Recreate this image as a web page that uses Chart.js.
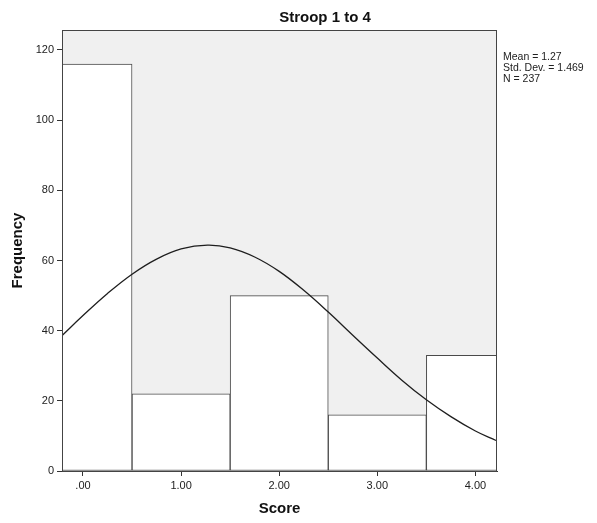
<!DOCTYPE html>
<html>
<head>
<meta charset="utf-8">
<script src="https://cdn.jsdelivr.net/npm/chart.js@4/dist/chart.umd.min.js"></script>
<style>
  html, body { margin: 0; padding: 0; background: #ffffff; }
  #wrap { width: 597px; height: 523px; }
</style>
</head>
<body>
<div id="wrap"><canvas id="chart" width="597" height="523"></canvas></div>
<script>
// Histogram bins (bin centres) and their frequencies
const binCenters = [0, 1, 2, 3, 4];
const frequencies = [116, 22, 50, 16, 33];

// Fitted normal curve, sampled along the score axis
const curveX = [-0.21, 0, 0.25, 0.5, 0.75, 1.0, 1.27, 1.5, 1.75, 2.0, 2.25, 2.5, 2.75, 3.0, 3.25, 3.5, 3.75, 4.0, 4.21];
const curveY = [38.7, 44.3, 50.6, 56.1, 60.4, 63.3, 64.4, 63.6, 61.0, 56.9, 51.5, 45.3, 38.7, 32.2, 25.9, 20.3, 15.5, 11.4, 8.7];

// Axis ticks
const xTickValues = [0, 1, 2, 3, 4];
const xTickLabels = ['.00', '1.00', '2.00', '3.00', '4.00'];
const yTickValues = [0, 20, 40, 60, 80, 100, 120];

// Summary text shown beside the plot
const chartTitle = 'Stroop 1 to 4';
const statsLines = ['Mean = 1.27', 'Std. Dev. = 1.469', 'N = 237'];

const FONT = 'Arial, "Liberation Sans", sans-serif';

const frameAndText = {
  id: 'frameAndText',
  beforeDatasetsDraw(chart) {
    const { ctx, chartArea: a } = chart;
    ctx.save();
    ctx.fillStyle = '#f0f0f0';
    ctx.fillRect(a.left, a.top, a.right - a.left, a.bottom - a.top);
    ctx.restore();
  },
  afterDatasetsDraw(chart) {
    const { ctx, chartArea: a } = chart;
    ctx.save();
    ctx.strokeStyle = '#444';
    ctx.lineWidth = 1;
    ctx.strokeRect(Math.round(a.left) + 0.5, Math.round(a.top) + 0.5,
                   Math.round(a.right - a.left) - 1, Math.round(a.bottom - a.top));
    ctx.restore();
  },
  afterDraw(chart) {
    const { ctx, chartArea: a } = chart;
    ctx.save();
    ctx.fillStyle = '#111';
    ctx.font = 'bold 15px ' + FONT;
    ctx.textAlign = 'center';
    ctx.textBaseline = 'middle';
    ctx.fillText(chartTitle, 325, 18);
    ctx.font = '10.5px ' + FONT;
    ctx.textAlign = 'left';
    ctx.fillStyle = '#222';
    statsLines.forEach((s, i) => ctx.fillText(s, a.right + 6, 57 + i * 11));
    ctx.restore();
  }
};

new Chart(document.getElementById('chart'), {
  type: 'bar',
  data: {
    datasets: [
      {
        type: 'line',
        data: curveX.map((x, i) => ({ x: x, y: curveY[i] })),
        borderColor: '#1e1e1e',
        borderWidth: 1.3,
        pointRadius: 0,
        tension: 0.4,
        fill: false,
        clip: 0,
        order: 0
      },
      {
        type: 'bar',
        data: binCenters.map((x, i) => ({ x: x, y: frequencies[i] })),
        backgroundColor: '#ffffff',
        borderColor: '#4a4a4a',
        borderWidth: 1,
        borderSkipped: false,
        barPercentage: 1,
        categoryPercentage: 1,
        clip: 0,
        order: 1
      }
    ]
  },
  options: {
    responsive: false,
    animation: false,
    devicePixelRatio: 1,
    layout: { padding: { top: 30, right: 100, left: 0, bottom: 0 } },
    plugins: { legend: { display: false }, tooltip: { enabled: false }, title: { display: false } },
    scales: {
      x: {
        type: 'linear',
        offset: false,
        min: -0.214,
        max: 4.22,
        afterFit(scale) { scale.height = 52; },
        afterBuildTicks(scale) { scale.ticks = xTickValues.map(v => ({ value: v })); },
        grid: { display: true, offset: false, drawOnChartArea: false, drawTicks: true, tickLength: 5, color: '#333', lineWidth: 1 },
        border: { display: true, color: '#333', width: 1 },
        ticks: {
          autoSkip: false,
          maxRotation: 0,
          padding: 3,
          color: '#222',
          font: { family: FONT, size: 11 },
          callback: (v) => xTickLabels[xTickValues.indexOf(v)]
        },
        title: {
          display: true,
          text: 'Score',
          color: '#111',
          font: { family: FONT, size: 15, weight: 'bold' },
          padding: { top: 0, bottom: 5 }
        }
      },
      y: {
        min: 0,
        max: 125.7,
        afterFit(scale) { scale.width = 62; },
        afterBuildTicks(scale) { scale.ticks = yTickValues.map(v => ({ value: v })); },
        grid: { display: true, offset: false, drawOnChartArea: false, drawTicks: true, tickLength: 5, color: '#333', lineWidth: 1 },
        border: { display: true, color: '#333', width: 1 },
        ticks: {
          autoSkip: false,
          padding: 3,
          color: '#222',
          font: { family: FONT, size: 11 }
        },
        title: {
          display: true,
          text: 'Frequency',
          color: '#111',
          font: { family: FONT, size: 15, weight: 'bold' },
          padding: { top: 8.5, bottom: 0 }
        }
      }
    }
  },
  plugins: [frameAndText]
});
</script>
</body>
</html>
